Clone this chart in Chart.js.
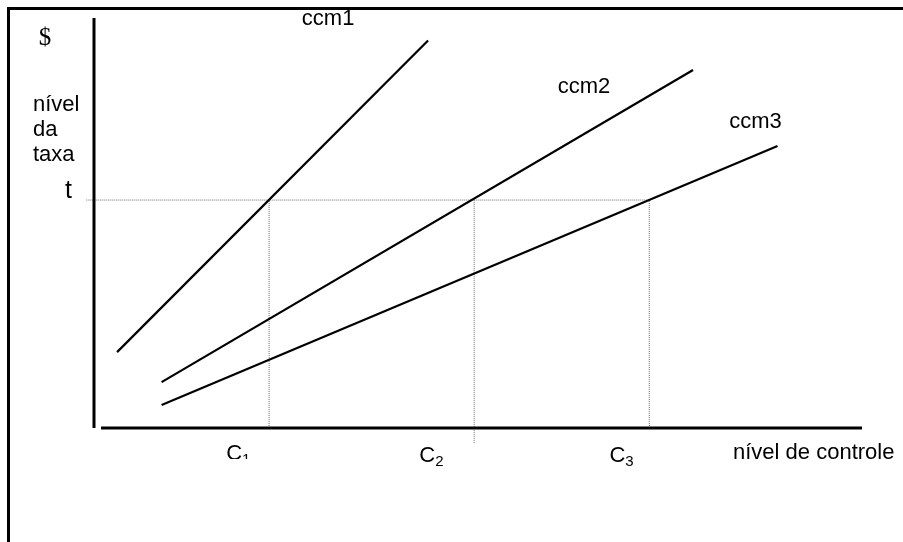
<!DOCTYPE html>
<html>
<head>
<meta charset="utf-8">
<script src="https://cdn.jsdelivr.net/npm/chart.js@4"></script>
<style>
  html, body { margin: 0; padding: 0; background: #fff; }
  #wrap { position: relative; width: 903px; height: 542px; }
  #frame { position: absolute; left: 7px; top: 7px; right: 0; bottom: 0; border-top: 3px solid #000; border-left: 3px solid #000; pointer-events: none; }
</style>
</head>
<body>
<div id="wrap">
  <canvas id="costChart" width="903" height="542"></canvas>
  <div id="frame"></div>
</div>
<script>
// curve data (x = nível de controle, y = $)
const curveNames = ["ccm1", "ccm2", "ccm3"];
const ccm1 = [{ x: 0.3, y: 1.85 }, { x: 4.35, y: 9.45 }];
const ccm2 = [{ x: 0.88, y: 1.12 }, { x: 7.8, y: 8.73 }];
const ccm3 = [{ x: 0.88, y: 0.56 }, { x: 8.9, y: 6.88 }];

// tax level t and the control levels where each curve meets it
const taxLevel = 5.56;
const controlLevels = [2.28, 4.95, 7.23];
const controlTicks = ["1", "2", "3"];

const yLabels = ["nível", "da", "taxa"];

document.addEventListener("DOMContentLoaded", function () {
  const ctx = document.getElementById("costChart").getContext("2d");
  const dotted = { borderColor: "#6e6e6e", borderWidth: 1, borderDash: [1, 1], pointRadius: 0, showLine: true, clip: false };
  const sans = "'Liberation Sans', Arial, sans-serif";

  const datasets = [ccm1, ccm2, ccm3].map((pts, i) => ({
    label: curveNames[i],
    data: pts,
    showLine: true,
    borderColor: "#000",
    borderWidth: 2.2,
    pointRadius: 0,
  }));

  // dotted guide at t
  datasets.push(Object.assign({ data: [{ x: -0.1, y: taxLevel }, { x: controlLevels[2], y: taxLevel }] }, dotted));
  controlLevels.forEach((c, i) => {
    const low = i === 1 ? -0.37 : 0;
    datasets.push(Object.assign({ data: [{ x: c, y: low }, { x: c, y: taxLevel }] }, dotted));
  });

  const annotate = {
    id: "annotate",
    afterDatasetsDraw(chart) {
      const c = chart.ctx;
      const xs = chart.scales.x, ys = chart.scales.y;
      const area = chart.chartArea;
      c.save();

      // axes
      c.strokeStyle = "#000";
      c.lineWidth = 3;
      c.beginPath();
      c.moveTo(area.left, area.top);
      c.lineTo(area.left, area.bottom);
      c.moveTo(area.left + 7, area.bottom);
      c.lineTo(area.right, area.bottom);
      c.stroke();

      c.fillStyle = "#000";
      c.font = "22px " + sans;
      c.textBaseline = "middle";

      // curve labels
      const ends = [ccm1[1], ccm2[1], ccm3[1]];
      const offs = [[-100, -22], [-109, 17], [-22, -24]];
      ends.forEach((p, i) => {
        c.textAlign = "center";
        c.fillText(curveNames[i], xs.getPixelForValue(p.x) + offs[i][0], ys.getPixelForValue(p.y) + offs[i][1]);
      });

      // y axis texts
      c.textAlign = "left";
      yLabels.forEach((s, i) => c.fillText(s, area.left - 61, 105 + i * 25));
      c.textBaseline = "alphabetic";
      c.font = "25px " + sans;
      c.fillText("t", area.left - 29, ys.getPixelForValue(taxLevel) - 2);
      c.font = "25px 'Liberation Serif', 'Times New Roman', serif";
      c.textAlign = "center";
      c.textBaseline = "middle";
      c.fillText("$", area.left - 49, 38);

      // control level ticks C1, C2, C3
      const tickOffs = [-30, -42, -27];
      controlLevels.forEach((v, i) => {
        const x = xs.getPixelForValue(v) + tickOffs[i];
        const y = area.bottom + 34;
        c.save();
        if (i === 0) {
          c.beginPath();
          c.rect(0, 0, 903, y - 3);
          c.clip();
        }
        const base = i === 0 ? y - 2 : y;
        c.textBaseline = "alphabetic";
        c.textAlign = "right";
        c.font = "22px " + sans;
        c.fillText("C", x + 3, base);
        c.textAlign = "left";
        c.font = "15px " + sans;
        c.fillText(controlTicks[i], x + 3, base + 4);
        c.restore();
      });

      c.textAlign = "left";
      c.textBaseline = "alphabetic";
      c.font = "22px " + sans;
      c.fillText("nível de controle", 733, area.bottom + 31);
      c.restore();
    },
  };

  new Chart(ctx, {
    type: "scatter",
    data: { datasets: datasets },
    options: {
      responsive: false,
      animation: false,
      layout: { padding: { left: 94, right: 41, top: 18, bottom: 114 } },
      plugins: { legend: { display: false }, tooltip: { enabled: false } },
      scales: {
        x: { type: "linear", min: 0, max: 10, display: false },
        y: { type: "linear", min: 0, max: 10, display: false },
      },
    },
    plugins: [annotate],
  });
});
</script>
</body>
</html>
